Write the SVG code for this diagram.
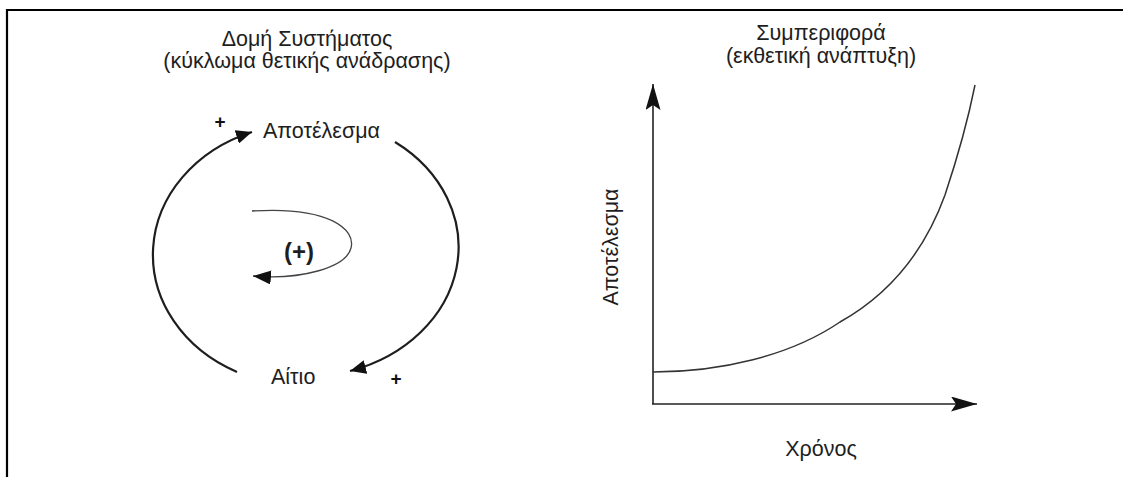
<svg xmlns="http://www.w3.org/2000/svg" width="1123" height="477" viewBox="0 0 1123 477">
  <style>
    text { font-family: "Liberation Sans", Arial, sans-serif; fill: #1e1e1e; }
    .t { font-size: 21.5px; }
    .lbl { font-size: 21.5px; }
    .plus { font-size: 19px; font-weight: bold; text-anchor: middle; fill: #111; }
    .arc { fill: none; stroke: #1e1e1e; stroke-width: 2.2; }
    .thin { fill: none; stroke: #444; stroke-width: 1.3; }
    .axis { fill: none; stroke: #222; stroke-width: 1.6; }
    .curve { fill: none; stroke: #333; stroke-width: 1.5; }
  </style>
  <defs>
    <marker id="ah" markerUnits="userSpaceOnUse" markerWidth="18" markerHeight="14" refX="16" refY="7" orient="auto">
      <path d="M0,0 L16,7 L0,14 z" fill="#111"/>
    </marker>
    <marker id="ahs" markerUnits="userSpaceOnUse" markerWidth="20" markerHeight="16" refX="18" refY="7" orient="auto">
      <path d="M0,0 L18,7 L0,14 z" fill="#111"/>
    </marker>
    <marker id="axh" markerUnits="userSpaceOnUse" markerWidth="28" markerHeight="16" refX="26" refY="7.5" orient="auto">
      <path d="M0,0 L26,7.5 L0,15 L5,7.5 z" fill="#111"/>
    </marker>
  </defs>
  <rect width="1123" height="477" fill="#ffffff"/>
  <path d="M7,477 V10 H1123" fill="none" stroke="#000" stroke-width="2.2"/>

  <g id="title-structure">
    <text class="t" x="307" y="46" text-anchor="middle">Δομή Συστήματος</text>
    <text class="t" x="307" y="68" text-anchor="middle">(κύκλωμα θετικής ανάδρασης)</text>
  </g>
  <g id="title-behaviour">
    <text class="t" x="821" y="40" text-anchor="middle">Συμπεριφορά</text>
    <text class="t" x="821" y="63" text-anchor="middle">(εκθετική ανάπτυξη)</text>
  </g>

  <g id="node-effect">
    <text class="lbl" x="263" y="138">Αποτέλεσμα</text>
  </g>
  <g id="node-cause">
    <text class="lbl" x="271" y="384">Αίτιο</text>
  </g>
  <g id="loop-label">
    <text x="299" y="260" font-size="24" font-weight="bold" text-anchor="middle">(+)</text>
  </g>

  <g id="connectors">
    <path class="arc" d="M237,372 A152,131 0 0 1 252,132" marker-end="url(#ah)"/>
    <path class="arc" d="M395,142 A155,130 0 0 1 350,371" marker-end="url(#ah)"/>
    <path class="thin" d="M252,211 C330,206 356,230 351,248 C346,268 300,280 253,276" marker-end="url(#ahs)"/>
    <text class="plus" x="220" y="128">+</text>
    <text class="plus" x="396" y="385">+</text>
  </g>

  <g id="graph">
    <path class="axis" d="M653,404 V84" marker-end="url(#axh)"/>
    <path class="axis" d="M652,404 H977" marker-end="url(#axh)"/>
    <path class="curve" d="M653,372 C720,372 790,356 840,322 C890,294 925,250 945,195 C960,150 970,110 975,85"/>
    <text class="lbl" transform="translate(618,247) rotate(-90)" text-anchor="middle">Αποτέλεσμα</text>
    <text class="lbl" x="821" y="456" text-anchor="middle">Χρόνος</text>
  </g>
</svg>
